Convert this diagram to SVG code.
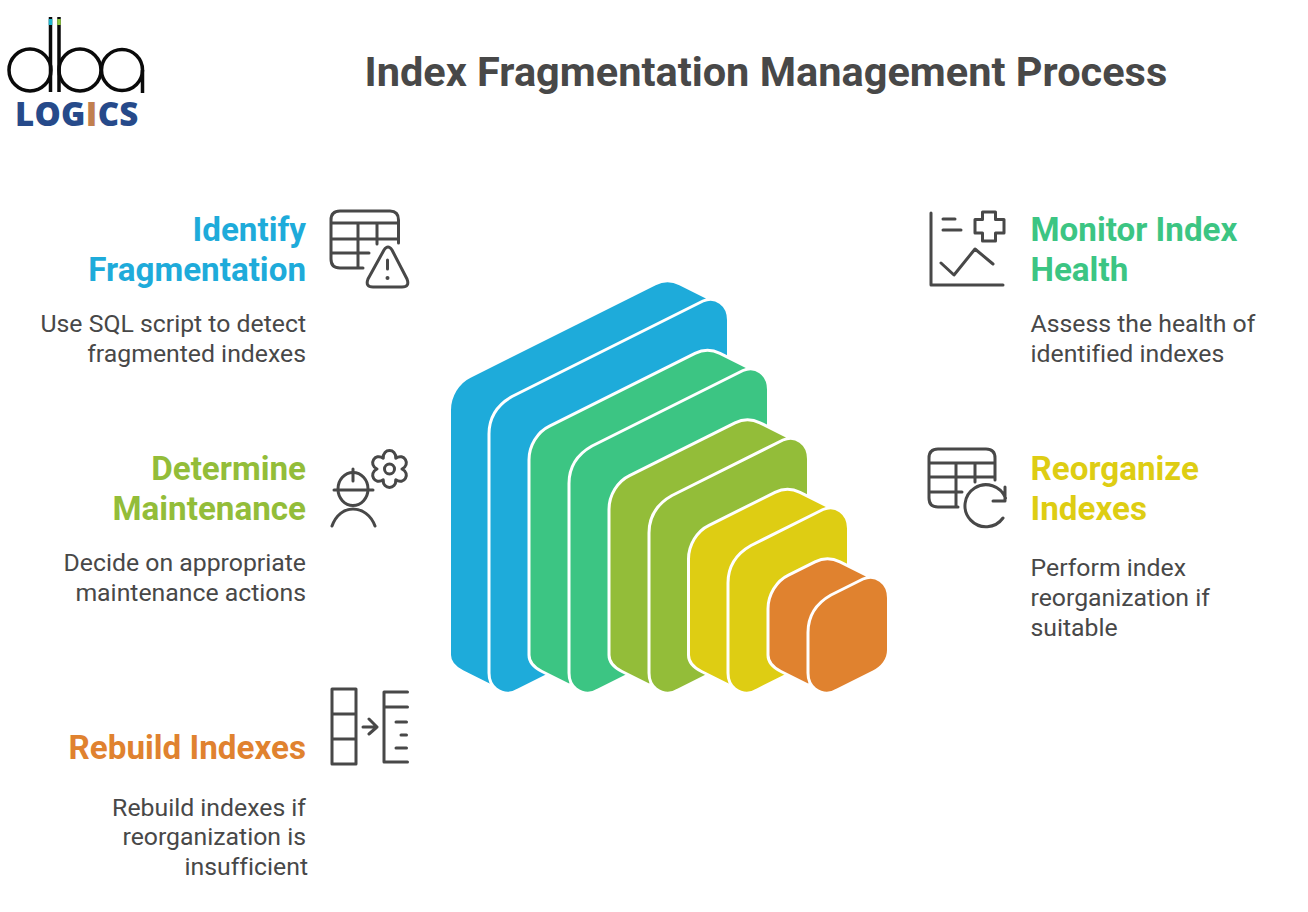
<svg xmlns="http://www.w3.org/2000/svg" width="1308" height="912" viewBox="0 0 1308 912">
<style>
text{font-family:Roboto,"Liberation Sans",sans-serif;font-variant-ligatures:none}
.t{font-size:41.5px;font-weight:700;fill:#484848}
.h{font-size:33.2px;font-weight:700}
.b{font-size:24.8px;fill:#484848}
.e{text-anchor:end}
.i{fill:none;stroke:#484848;stroke-width:3;stroke-linecap:round;stroke-linejoin:round}
.p{stroke:#fff;stroke-width:3;stroke-linejoin:round}
.blue{fill:#1eabda}.green{fill:#3cc583}.olive{fill:#93bd39}.yellow{fill:#decd13}.orange{fill:#e0822f}
.lg{fill:none;stroke:#0a0a0a;stroke-width:3.5}
</style>
<rect width="1308" height="912" fill="#fff"/>
<g id="logo">
<circle class="lg" cx="30" cy="70" r="21"/>
<circle class="lg" cx="80" cy="70" r="21"/>
<circle class="lg" cx="122" cy="70" r="20.5"/>
<path class="lg" d="M50.500 17V92M59 17V92M142.500 70V93"/>
<path d="M48.700 19h3.600v6h-3.600z" fill="#1eb7cf"/>
<path d="M57.200 19h3.600v6h-3.600z" fill="#8cc63f"/>
<text x="15" y="126" font-size="33" font-weight="800" letter-spacing="0.3" fill="#264a8a" style="font-family:'Open Sans',sans-serif">LOG<tspan fill="#c17f4f">I</tspan>CS</text>
</g>
<text id="title" class="t" x="364.500" y="86">Index Fragmentation Management Process</text>
<g id="stack">
<path class="p blue" d="M449.500 410.050c0-14 8.500-28 20.500-33.700L655 283.800c8-4 17-4 25 0l28 14l-13 26L504.500 660L490.500 685.500L462.500 671.500C454.500 667.500 449.500 662 449.500 655Z"/>
<path class="p blue" d="M489 434c0-16 8-29 23-37.500L703 301c12-5.500 25.500 3 25.500 19V570.500c0 10-6.500 18-15.500 22L518 690c-7 4.500-15 4-22-1c-5-4-7-9-7-16Z"/>
<path class="p green" d="M529 459.800c0-14 8.500-28 20.500-33.700L695 353.300c8-4 17-4 25 0l28 14l-13 26L584 660L570 685.500L542 671.500C534 667.500 529 662 529 655Z"/>
<path class="p green" d="M569 483.500c0-16 8-29 23-37.500L743 370.500c12-5.500 25.500 3 25.500 19V590.500c0 10-6.500 18-15.500 22L598 690c-7 4.500-15 4-22-1c-5-4-7-9-7-16Z"/>
<path class="p olive" d="M609 509.300c0-14 8.500-28 20.500-33.700L735 422.800c8-4 17-4 25 0l28 14l-13 26L664 660L650 685.500L622 671.500C614 667.500 609 662 609 655Z"/>
<path class="p olive" d="M649 533c0-16 8-29 23-37.500L783 440c12-5.500 25.500 3 25.500 19V610.500c0 10-6.500 18-15.500 22L678 690c-7 4.500-15 4-22-1c-5-4-7-9-7-16Z"/>
<path class="p yellow" d="M688.500 559.050c0-14 8.500-28 20.500-33.700L775 492.300c8-4 17-4 25 0l28 14l-13 26L743.500 660L729.500 685.500L701.500 671.500C693.500 667.500 688.500 662 688.500 655Z"/>
<path class="p yellow" d="M728 583c0-16 8-29 23-37.500L823 509.500c12-5.500 25.500 3 25.500 19V630c0 10-6.500 18-15.500 22L757 690c-7 4.500-15 4-22-1c-5-4-7-9-7-16Z"/>
<path class="p orange" d="M768 608.800c0-14 8.500-28 20.500-33.700L815 561.800c8-4 17-4 25 0l28 14l-13 26L823 660L809 685.500L781 671.500C773 667.500 768 662 768 655Z"/>
<path class="p orange" d="M808 632.500c0-16 8-29 23-37.500L863 579c12-5.500 25.500 3 25.500 19V650c0 10-6.500 18-15.500 22L837 690c-7 4.500-15 4-22-1c-5-4-7-9-7-16Z"/>
</g>
<g id="identify">
<text class="h e blue" x="306" y="241">Identify</text>
<text class="h e blue" x="306" y="281">Fragmentation</text>
<text class="b e" x="306" y="332">Use SQL script to detect</text>
<text class="b e" x="306" y="362">fragmented indexes</text>
<path class="i" d="M363 268H340Q331 268 331 259V220Q331 211 340 211H390Q398.500 211 398.500 220V243M331 223H398.500M331 239H398.500M331 253H369M358 223V268M377 223V244"/>
<path class="i" d="M384 250L368 279Q365 287 373 287H402Q410 287 407 279L392 250Q388 244 384 250ZM387.500 260V269"/>
<circle cx="387.500" cy="278" r="2" fill="#484848"/>
</g>
<g id="determine">
<text class="h e olive" x="306" y="480">Determine</text>
<text class="h e olive" x="306" y="520">Maintenance</text>
<text class="b e" x="306" y="571">Decide on appropriate</text>
<text class="b e" x="306" y="601">maintenance actions</text>
<path class="i" d="M334 490H373M353 469V481M332 526C336 515 344 509 353 509C362 509 371 515 375 526"/>
<ellipse class="i" cx="353" cy="489" rx="15" ry="16.500"/>
<path class="i" d="M383.250 458.170C382.500 448 396.500 448 395.750 458.170C404.190 452.440 411.190 464.560 402 469C411.190 473.440 404.190 485.560 395.750 479.830C396.500 490 382.500 490 383.250 479.830C374.810 485.560 367.810 473.440 377 469C367.810 464.560 374.810 452.440 383.250 458.170Z"/>
<circle class="i" cx="389.500" cy="469" r="5"/>
</g>
<g id="rebuild">
<text class="h e orange" x="306" y="759">Rebuild Indexes</text>
<text class="b e" x="306" y="816">Rebuild indexes if</text>
<text class="b e" x="306" y="845">reorganization is</text>
<text class="b e" x="308" y="875">insufficient</text>
<path class="i" d="M332 689H356V764H332ZM332 714H356M332 739H356M363 727H377M369 719L377 727L369 734M407.500 692H384V762H407.500M384 707H407.500M396 722H406.500M401 735H406.500M396 748H406.500"/>
</g>
<g id="monitor">
<text class="h green" x="1030.500" y="241">Monitor Index</text>
<text class="h green" x="1030.500" y="281">Health</text>
<text class="b" x="1030.500" y="332">Assess the health of</text>
<text class="b" x="1030.500" y="362">identified indexes</text>
<path class="i" d="M931 213V285H1003M943 219H955M943 230H961M941 263L954 275L975 249L993 264M982.500 212H995.500V219.500H1004V233H995.500V241H982.500V233H975V219.500H982.500Z"/>
</g>
<g id="reorganize">
<text class="h yellow" x="1030.500" y="480">Reorganize</text>
<text class="h yellow" x="1030.500" y="520">Indexes</text>
<text class="b" x="1030.500" y="576">Perform index</text>
<text class="b" x="1030.500" y="606">reorganization if</text>
<text class="b" x="1030.500" y="636">suitable</text>
<path class="i" d="M958 507H938Q929 507 929 498V458Q929 449 938 449H986Q995 449 995 458V480M929 463H995M929 477H995M929 492H962M956 463V507M975 463V482M1003 518A21 21 0 1 1 1005.500 498M1005 487V501H993"/>
</g>
</svg>
